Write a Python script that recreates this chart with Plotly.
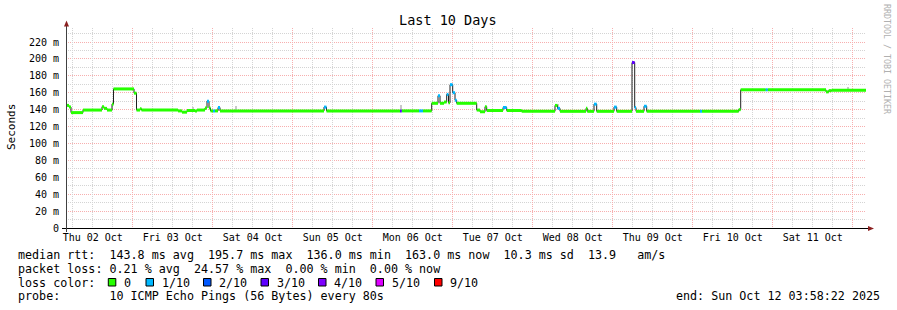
import pandas as pd
import plotly.graph_objects as go

# ---------------- data ----------------
T_START = "2025-10-02 03:58:22"
SPAN_H = 240

# median rtt as steps: start of each step (hours after T_START), value (ms), loss class index
seg_start_h = [0.0, 0.9, 1.5, 5.1, 10.8, 11.4, 12.3, 13.8, 14.25, 20.4,
               21.15, 22.2, 22.65, 33.6, 34.8, 36.3, 38.7, 39.3, 41.7, 42.3,
               42.9, 43.35, 44.1, 44.7, 45.6, 46.2, 77.4, 78.15, 100.2, 100.71,
               105.9, 107.1, 109.71, 111.6, 112.2, 113.4, 114.21, 114.75, 115.2, 116.01,
               116.7, 117.21, 123.21, 124.2, 125.7, 126.21, 131.1, 132.21, 136.71, 146.7,
               147.45, 148.2, 156.0, 156.39, 158.4, 159.21, 164.4, 165.21, 169.8, 170.61,
               171.0, 173.4, 174.21, 190.2, 190.8, 201.81, 202.41, 209.91, 210.51, 228.0,
               228.81, 229.71]
seg_median_ms = [145.0, 143.0, 136.5, 139.5, 143.5, 141.5, 139.5, 146.5, 164.5, 159.5,
                 139.5, 141.0, 139.5, 138.5, 137.0, 139.0, 138.5, 139.5, 142.0, 150.0,
                 142.0, 138.5, 138.5, 138.5, 142.5, 138.5, 143.0, 138.5, 138.5, 138.5,
                 138.5, 138.5, 147.5, 156.5, 147.5, 149.0, 158.0, 148.0, 169.5, 160.0,
                 151.0, 147.5, 139.5, 137.5, 143.5, 139.0, 142.5, 139.0, 138.0, 145.0,
                 141.5, 138.0, 141.5, 138.0, 146.5, 138.0, 143.0, 138.0, 195.7, 142.5,
                 138.0, 144.0, 138.0, 138.0, 138.0, 140.0, 163.5, 163.5, 163.5, 161.0,
                 162.5, 163.0]
seg_loss = [0, 0, 0, 0, 0, 0, 0, 0, 0, 0,
            0, 0, 0, 0, 0, 0, 0, 0, 0, 1,
            0, 0, 1, 0, 1, 0, 1, 0, 3, 0,
            1, 0, 0, 1, 0, 0, 1, 0, 1, 1,
            1, 0, 0, 0, 0, 0, 1, 0, 0, 0,
            1, 0, 0, 0, 1, 0, 1, 0, 3, 1,
            0, 1, 0, 1, 0, 0, 0, 1, 0, 0,
            0, 0]

# smoke (ping spread) visible spots: hour, low ms, high ms
smoke_h = [38.0, 51.0, 100.35, 147.6, 234.6]
smoke_low = [139.5, 140.0, 140.0, 141.0, 164.5]
smoke_high = [143.0, 144.0, 146.0, 147.0, 167.0]

loss_labels = ["0", "1/10", "2/10", "3/10", "4/10", "5/10", "9/10"]
loss_colors = ["#26ff00", "#00b8ff", "#0059ff", "#5e00ff", "#7e00ff", "#dd00ff", "#ff0000"]

day_labels = ["Thu 02 Oct", "Fri 03 Oct", "Sat 04 Oct", "Sun 05 Oct", "Mon 06 Oct",
              "Tue 07 Oct", "Wed 08 Oct", "Thu 09 Oct", "Fri 10 Oct", "Sat 11 Oct"]
y_ticks = [0, 20, 40, 60, 80, 100, 120, 140, 160, 180, 200, 220]
y_ticktext = ["0"] + [f"{v} m" for v in y_ticks[1:]]

title_text = "Last 10 Days"
rtt_line = "median rtt:  143.8 ms avg  195.7 ms max  136.0 ms min  163.0 ms now  10.3 ms sd  13.9   am/s"
loss_line = "packet loss: 0.21 % avg  24.57 % max  0.00 % min  0.00 % now"
probe_line = "probe:       10 ICMP Echo Pings (56 Bytes) every 80s"
end_line = "end: Sun Oct 12 03:58:22 2025"

# ---------------- build ----------------
assert len(seg_start_h) == len(seg_median_ms) == len(seg_loss)
t0 = pd.Timestamp(T_START)
t_end = t0 + pd.Timedelta(hours=SPAN_H)
starts = [t0 + pd.Timedelta(hours=h) for h in seg_start_h]
ends = starts[1:] + [t_end]

FONT = "DejaVu Sans Mono"
L, R, T, B = 66, 31, 28, 82
W, H = 897, 310
PW, PH = W - L - R, H - T - B


def px(x):
    return (x - L) / PW


def py(y):
    return (T + PH - y) / PH


def nb(s):
    return s.replace(" ", "\u00a0")


fig = go.Figure()

# smoke
fig.add_trace(go.Bar(
    x=[t0 + pd.Timedelta(hours=h) for h in smoke_h],
    y=[hi - lo for lo, hi in zip(smoke_low, smoke_high)],
    base=smoke_low, width=0.6 * 3600 * 1000,
    marker=dict(color="#c8c8c8", line=dict(width=0)),
    hoverinfo="skip", showlegend=False))

# thin dark median line
fig.add_trace(go.Scatter(
    x=starts + [t_end], y=seg_median_ms + [seg_median_ms[-1]],
    mode="lines", line=dict(color="#202020", width=1, shape="hv"),
    hoverinfo="skip", showlegend=False))

# coloured loss bands
for ci, col in enumerate(loss_colors):
    xs, ys = [], []
    for s, e, v, lc in zip(starts, ends, seg_median_ms, seg_loss):
        if lc == ci:
            xs += [s, e, None]
            ys += [v, v, None]
    if xs:
        fig.add_trace(go.Scatter(x=xs, y=ys, mode="lines",
                                 line=dict(color=col, width=3),
                                 hoverinfo="skip", showlegend=False,
                                 connectgaps=False))

# dummy traces for grid axes
fig.add_trace(go.Scatter(x=[t0], y=[None], xaxis="x2", showlegend=False, hoverinfo="skip"))
fig.add_trace(go.Scatter(x=[t0], y=[None], xaxis="x3", showlegend=False, hoverinfo="skip"))

noons = [pd.Timestamp("2025-10-02 12:00") + pd.Timedelta(days=i) for i in range(len(day_labels))]
midnights = [d for d in pd.date_range("2025-10-02", "2025-10-13", freq="D") if t0 < d < t_end]
sixes = [d for d in pd.date_range("2025-10-02", "2025-10-13", freq="6h")
         if t0 < d < t_end and d.hour != 0]

GREY = "rgb(212,212,212)"
RED = "rgb(247,175,175)"
DASH = "1px,1px"

fig.update_layout(
    width=W, height=H,
    margin=dict(l=L, r=R, t=T, b=B, pad=0),
    paper_bgcolor="white", plot_bgcolor="white",
    font=dict(family=FONT, size=10, color="black"),
    hovermode=False, showlegend=False, bargap=0,
    xaxis=dict(range=[t0, t_end], tickmode="array", tickvals=noons, ticktext=day_labels,
               showgrid=False, zeroline=False, showline=False, ticks="",
               tickfont=dict(family=FONT, size=10, color="black"), ticklabelstandoff=2,
               fixedrange=True),
    xaxis2=dict(overlaying="x", matches="x", tickmode="array", tickvals=sixes,
                showticklabels=False, showgrid=True, gridcolor=GREY, griddash=DASH,
                gridwidth=1, zeroline=False, showline=False, ticks=""),
    xaxis3=dict(overlaying="x", matches="x", tickmode="array", tickvals=midnights,
                showticklabels=False, showgrid=True, gridcolor=RED, griddash=DASH,
                gridwidth=1, zeroline=False, showline=False, ticks=""),
    yaxis=dict(range=[0, PH * 220 / 186], tickmode="array", tickvals=y_ticks, ticktext=y_ticktext,
               showgrid=True, gridcolor=RED, griddash=DASH, gridwidth=1,
               minor=dict(dtick=10, tick0=0, showgrid=True, gridcolor=GREY,
                          griddash=DASH, gridwidth=1, ticks=""),
               zeroline=False, showline=False, ticks="",
               tickfont=dict(family=FONT, size=10, color="black"), ticklabelstandoff=6,
               fixedrange=True),
)

shapes = []
# axes lines
shapes.append(dict(type="line", xref="paper", yref="paper", x0=px(62), x1=px(869),
                   y0=py(228.5), y1=py(228.5), line=dict(color="black", width=1)))
shapes.append(dict(type="line", xref="paper", yref="paper", x0=px(66.5), x1=px(66.5),
                   y0=py(232), y1=py(24), line=dict(color="#404040", width=1)))
ARROW = "#8b2020"
shapes.append(dict(type="path", xref="paper", yref="paper",
                   path=f"M {px(64)} {py(26.5)} L {px(69)} {py(26.5)} L {px(66.5)} {py(20.5)} Z",
                   fillcolor=ARROW, line=dict(color=ARROW, width=0)))
shapes.append(dict(type="path", xref="paper", yref="paper",
                   path=f"M {px(868)} {py(226)} L {px(868)} {py(231)} L {px(874)} {py(228.5)} Z",
                   fillcolor=ARROW, line=dict(color=ARROW, width=0)))

# loss colour legend boxes
box_x = [108.3, 146.0, 203.5, 261.0, 318.5, 376.0, 434.5]
annotations = []
for bx, lab, col in zip(box_x, loss_labels, loss_colors):
    shapes.append(dict(type="rect", xref="paper", yref="paper",
                       x0=px(bx), x1=px(bx + 7.5), y0=py(286), y1=py(278.5),
                       fillcolor=col, line=dict(color="black", width=1)))
    annotations.append(dict(text=nb(lab), x=px(bx + 14.5), y=py(282.5), xref="paper", yref="paper",
                            xanchor="left", yanchor="middle", showarrow=False, borderpad=0,
                            font=dict(family=FONT, size=11.7, color="black")))

fig.update_layout(shapes=shapes)

LEG = dict(xref="paper", yref="paper", showarrow=False, borderpad=0,
           font=dict(family=FONT, size=11.7, color="black"))
annotations += [
    dict(text=nb(title_text), x=px(448), y=py(19.5), xanchor="center", yanchor="middle",
         **{**LEG, "font": dict(family=FONT, size=13.5, color="black")}),
    dict(text="Seconds", x=px(11), y=py(127), xanchor="center", yanchor="middle", textangle=-90,
         **{**LEG, "font": dict(family=FONT, size=11, color="black")}),
    dict(text=nb("RRDTOOL / TOBI OETIKER"), x=px(887), y=py(59), xanchor="center", yanchor="middle",
         textangle=90, **{**LEG, "font": dict(family=FONT, size=8.3, color="#b0b0b0")}),
    dict(text=nb(rtt_line), x=px(16.5), y=py(255), xanchor="left", yanchor="middle", **LEG),
    dict(text=nb(loss_line), x=px(16.5), y=py(268.5), xanchor="left", yanchor="middle", **LEG),
    dict(text=nb("loss color:"), x=px(16.5), y=py(282.5), xanchor="left", yanchor="middle", **LEG),
    dict(text=nb(probe_line), x=px(16.5), y=py(296), xanchor="left", yanchor="middle", **LEG),
    dict(text=nb(end_line), x=px(881), y=py(296), xanchor="right", yanchor="middle", **LEG),
]
fig.update_layout(annotations=annotations)

fig.write_html("out.html", config={"displayModeBar": False, "staticPlot": True})
